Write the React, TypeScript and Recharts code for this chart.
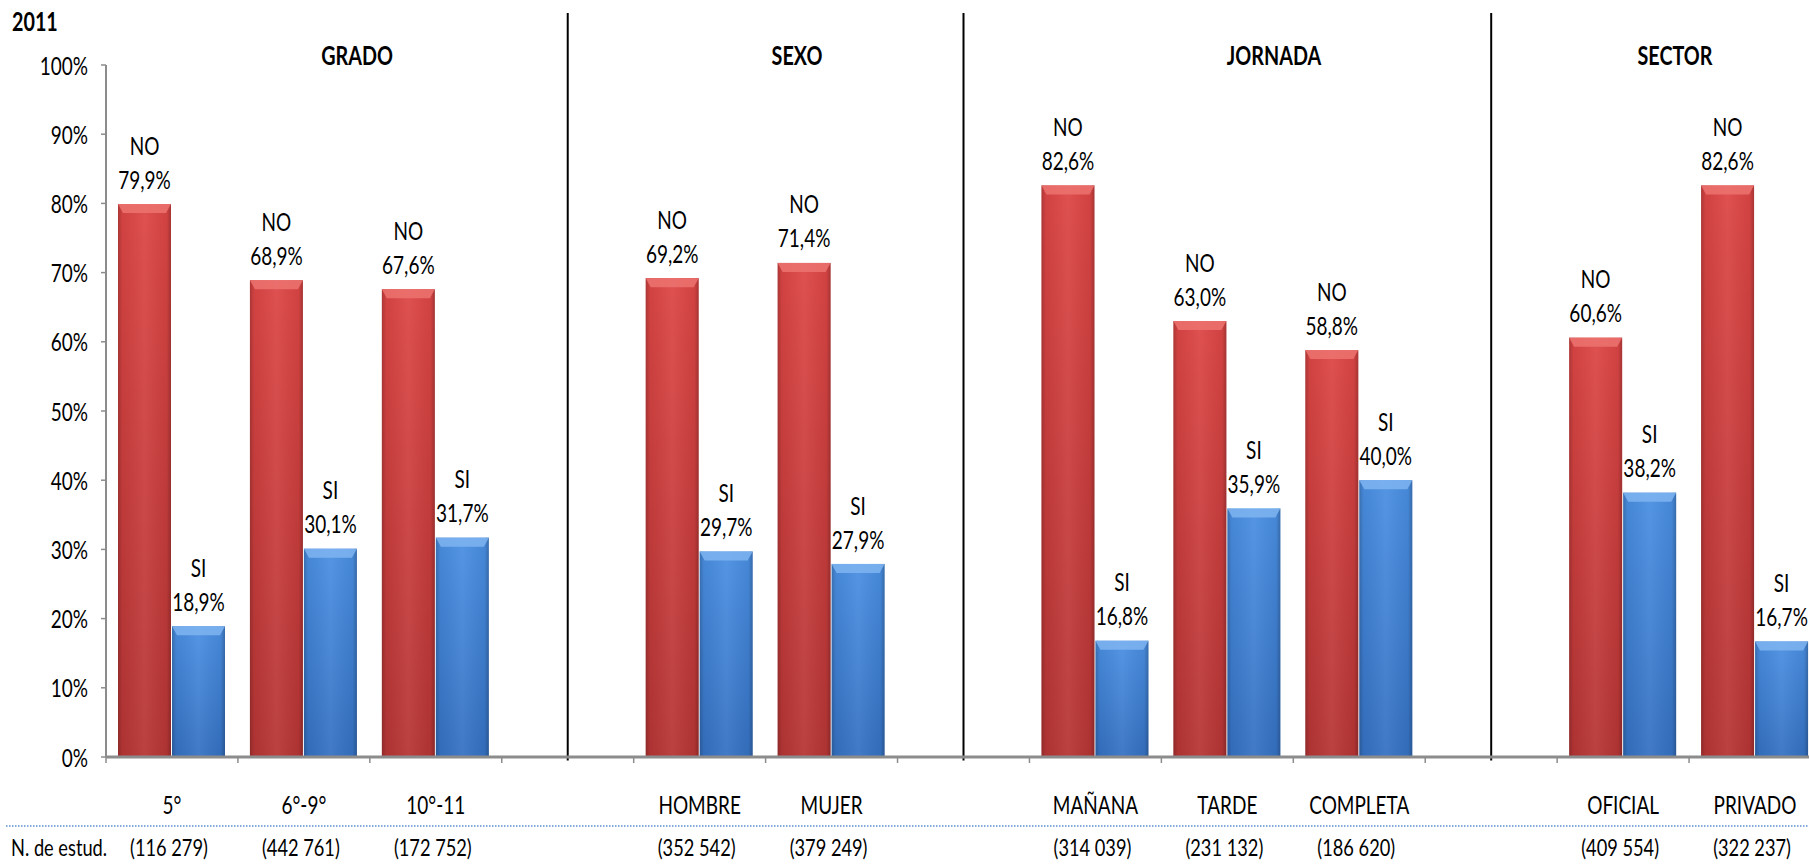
import React from 'react';
import { BarChart, Bar, XAxis, YAxis, LabelList, ReferenceLine } from 'recharts';

// ---------- data ----------
const categories = ['5°', '6°-9°', '10°-11', 'g1', 'HOMBRE', 'MUJER', 'g2', 'MAÑANA', 'TARDE', 'COMPLETA', 'g3', 'OFICIAL', 'PRIVADO'];
const categoryLabels = ['5°', '6°-9°', '10°-11', '', 'HOMBRE', 'MUJER', '', 'MAÑANA', 'TARDE', 'COMPLETA', '', 'OFICIAL', 'PRIVADO'];
const noValues = [79.9, 68.9, 67.6, null, 69.2, 71.4, null, 82.6, 63.0, 58.8, null, 60.6, 82.6];
const siValues = [18.9, 30.1, 31.7, null, 29.7, 27.9, null, 16.8, 35.9, 40.0, null, 38.2, 16.7];
const studentCounts = ['(116 279)', '(442 761)', '(172 752)', '', '(352 542)', '(379 249)', '', '(314 039)', '(231 132)', '(186 620)', '', '(409 554)', '(322 237)'];
const dividerCategories = ['g1', 'g2', 'g3'];
const sectionTitles = ['GRADO', 'SEXO', 'JORNADA', 'SECTOR'];
const yTicks = [0, 10, 20, 30, 40, 50, 60, 70, 80, 90, 100];
const yearTitle = '2011';
const rowLabel = 'N. de estud.';

const data = categories.map((c, i) => ({ name: c, no: noValues[i], si: siValues[i] }));

// ---------- layout / style ----------
const FONT = 'Lato, "Open Sans", sans-serif';
const SX = 0.76; // horizontal squeeze to mimic the condensed look of the reference
const CHART_W = 1831;
const CHART_H = 864;
const MARGIN = { top: 65, right: 10, bottom: 7, left: 0 };
const Y_W = 106;
const X_H = 100;
const BAND = (CHART_W - MARGIN.left - MARGIN.right - Y_W) / categories.length;
const TITLE_X = [357, 797, 1274, 1675];
const TITLE_Y = 55;
const AXIS_GRAY = '#8c8c8c';
const FS = 25;

const fmt = (v: number) => v.toFixed(1).replace('.', ',') + '%';

const NText = ({ x, y, size = FS, weight = 'normal', anchor = 'middle', children }: any) => (
  <text
    transform={`translate(${x},${y}) scale(${SX},1)`}
    x={0}
    y={0}
    textAnchor={anchor}
    dominantBaseline="central"
    fontFamily={FONT}
    fontSize={size}
    fontWeight={weight}
    fill="#000"
  >
    {children}
  </text>
);

const BevelBar = (props: any) => {
  const { x, y, width, height, kind } = props;
  if (height == null || height <= 0 || width <= 0) return null;
  const b = Math.min(9, height / 2);
  const inset = 5;
  const light = kind === 'no' ? '#ec7370' : '#7fb4f0';
  return (
    <g>
      <rect x={x} y={y} width={width} height={height} fill={`url(#v-${kind})`} />
      <rect x={x} y={y} width={width} height={height} fill="url(#h-shade)" />
      <polygon
        points={`${x},${y} ${x + width},${y} ${x + width - inset},${y + b} ${x + inset},${y + b}`}
        fill={light}
        opacity={0.85}
      />
    </g>
  );
};

const makeLabel = (tag: string) => (props: any) => {
  const { x, y, width, value } = props;
  if (value == null) return null;
  const cx = x + width / 2;
  return (
    <g>
      <NText x={cx} y={y - 59}>{tag}</NText>
      <NText x={cx} y={y - 25}>{fmt(value)}</NText>
    </g>
  );
};

const XTick = (props: any) => {
  const { x, y, payload } = props;
  const i = categories.indexOf(payload.value);
  const last = i === categories.length - 1;
  return (
    <g>
      <line x1={x - BAND / 2} x2={x - BAND / 2} y1={y} y2={y + 6} stroke={AXIS_GRAY} strokeWidth={1.5} />
      {last && <line x1={x + BAND / 2} x2={x + BAND / 2} y1={y} y2={y + 6} stroke={AXIS_GRAY} strokeWidth={1.5} />}
      <NText x={x} y={y + 47}>{categoryLabels[i]}</NText>
      <NText x={x - 3} y={y + 90} size={24}>{studentCounts[i]}</NText>
    </g>
  );
};

const YTick = (props: any) => {
  const { x, y, payload } = props;
  return <NText x={x} y={y} anchor="end">{`${payload.value}%`}</NText>;
};

export default function App() {
  return (
    <div style={{ position: 'absolute', left: 0, top: 0, width: 1809, height: 864, overflow: 'hidden', background: '#fff' }}>
      <BarChart width={CHART_W} height={CHART_H} data={data} margin={MARGIN} barSize={53} barGap={1}>
        <defs>
          <linearGradient id="v-no" x1="0" y1="0" x2="0" y2="1">
            <stop offset="0%" stopColor="#dc4645" />
            <stop offset="100%" stopColor="#b63535" />
          </linearGradient>
          <linearGradient id="v-si" x1="0" y1="0" x2="0" y2="1">
            <stop offset="0%" stopColor="#4a8fe2" />
            <stop offset="100%" stopColor="#3571c2" />
          </linearGradient>
          <linearGradient id="h-shade" x1="0" y1="0" x2="1" y2="0">
            <stop offset="0%" stopColor="#000" stopOpacity={0.22} />
            <stop offset="8%" stopColor="#000" stopOpacity={0.05} />
            <stop offset="50%" stopColor="#fff" stopOpacity={0.06} />
            <stop offset="92%" stopColor="#000" stopOpacity={0.05} />
            <stop offset="100%" stopColor="#000" stopOpacity={0.25} />
          </linearGradient>
        </defs>
        <XAxis
          dataKey="name"
          height={X_H}
          interval={0}
          tickSize={0}
          tickMargin={0}
          tickLine={false}
          axisLine={{ stroke: AXIS_GRAY, strokeWidth: 3 }}
          tick={<XTick />}
        />
        <YAxis
          width={Y_W}
          domain={[0, 100]}
          ticks={yTicks}
          allowDataOverflow
          tickSize={5}
          tickMargin={13}
          tickLine={{ stroke: AXIS_GRAY, strokeWidth: 1.5 }}
          axisLine={{ stroke: AXIS_GRAY, strokeWidth: 2 }}
          tick={<YTick />}
        />
        {dividerCategories.map((c) => (
          <ReferenceLine
            key={c}
            ifOverflow="visible"
            segment={[{ x: c, y: -0.5 }, { x: c, y: 107.5 }]}
            stroke="#000"
            strokeWidth={2}
          />
        ))}
        <Bar dataKey="no" isAnimationActive={false} shape={(p: any) => <BevelBar {...p} kind="no" />}>
          <LabelList dataKey="no" content={makeLabel('NO')} />
        </Bar>
        <Bar dataKey="si" isAnimationActive={false} shape={(p: any) => <BevelBar {...p} kind="si" />}>
          <LabelList dataKey="si" content={makeLabel('SI')} />
        </Bar>
      </BarChart>

      <svg width={1809} height={864} style={{ position: 'absolute', left: 0, top: 0, pointerEvents: 'none' }}>
        <NText x={12} y={21} size={26} weight="bold" anchor="start">{yearTitle}</NText>
        {sectionTitles.map((t, i) => (
          <NText key={t} x={TITLE_X[i]} y={TITLE_Y} size={26} weight="bold">{t}</NText>
        ))}
        <line x1={6} x2={1809} y1={826} y2={826} stroke="#5b8fd0" strokeWidth={1.5} strokeDasharray="1.5 1.5" />
        <NText x={11} y={847} size={24} anchor="start">{rowLabel}</NText>
      </svg>
    </div>
  );
}
